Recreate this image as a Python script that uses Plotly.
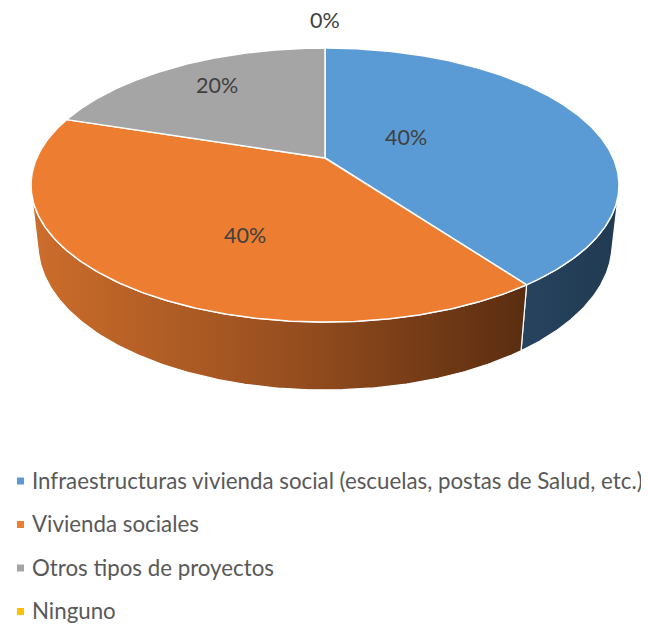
import numpy as np
import plotly.graph_objects as go

# ---------------- data ----------------
categories = [
    "Infraestructuras vivienda social (escuelas, postas de Salud, etc.)",
    "Vivienda sociales",
    "Otros tipos de proyectos",
    "Ninguno",
]
values = [40, 40, 20, 0]

# ---------------- style ----------------
top_colors = ["#5B9BD5", "#ED7D31", "#A5A5A5", "#FFC000"]
wall_scales = [
    [[0, "#27435E"], [1, "#213A52"]],
    [[0, "#CC6D2B"], [0.5, "#9A5020"], [1, "#5A2D10"]],
    [[0, "#7A7A7A"], [1, "#5A5A5A"]],
    [[0, "#BF9000"], [1, "#8F6C00"]],
]
label_r = [0.30, 0.44, 0.71, 1.32]     # radial position of data labels (fraction of radius)
label_dy = [-9, 27, -5, 0]             # small vertical nudges in px
W, H = 649, 627
PAGE_MARGIN = 8                        # default body margin of the html page
FONT = "Lato, Calibri, sans-serif"

# 3D camera for the tilted pie
phi = np.radians(27.2)
D, f, cx, cy, h = 4.51, 1300.0, 325.0, 158.0, 0.234


def proj(th, r=1.0, z=0.0):
    u = r * np.sin(th)
    v = r * np.cos(th)
    s_up = v * np.sin(phi) + z * np.cos(phi)
    t = -v * np.cos(phi) + z * np.sin(phi)
    w = D - t
    return cx + f * u / w, cy - f * s_up / w


total = sum(values)
fracs = [v / total for v in values]
starts = np.concatenate([[0], np.cumsum(fracs)[:-1]]) * 2 * np.pi
ends = np.cumsum(fracs) * 2 * np.pi
th_s = np.arccos(-1.0 / (D * np.cos(phi)))  # silhouette angle of the side wall

fig = go.Figure()

# side walls
for i in range(len(values)):
    lo, hi = max(starts[i], th_s), min(ends[i], 2 * np.pi - th_s)
    if hi <= lo:
        continue
    th = np.linspace(lo, hi, 200)
    xt, yt = proj(th)
    xb, yb = proj(th[::-1], z=-h)
    xs = np.concatenate([xt, xb, xt[:1]])
    ys = np.concatenate([yt, yb, yt[:1]])
    fig.add_trace(go.Scatter(
        x=xs, y=ys, mode="lines", fill="toself",
        fillgradient=dict(type="horizontal", colorscale=wall_scales[i]),
        line=dict(color="white", width=1.2),
        hoverinfo="skip", showlegend=False))

# top faces
for i in range(len(values)):
    if ends[i] - starts[i] <= 0:
        continue
    th = np.linspace(starts[i], ends[i], 300)
    xa, ya = proj(th)
    xs = np.concatenate([[cx], xa, [cx]])
    ys = np.concatenate([[cy], ya, [cy]])
    fig.add_trace(go.Scatter(
        x=xs, y=ys, mode="lines", fill="toself", fillcolor=top_colors[i],
        line=dict(color="white", width=1.5),
        hoverinfo="skip", showlegend=False))

# data labels
annotations = []
for i in range(len(values)):
    mid = (starts[i] + ends[i]) / 2
    lx, ly = proj(mid, r=label_r[i])
    annotations.append(dict(
        x=float(lx), y=float(ly + label_dy[i]), xref="x", yref="y",
        text=f"{round(fracs[i] * 100)}%", showarrow=False,
        font=dict(family=FONT, size=21.5, color="#404040"),
        xanchor="center", yanchor="middle"))

# legend (custom, to match square swatches and spacing)
shapes = []
leg_x, leg_y, leg_gap = 30, 480, 43.5
for i, cat in enumerate(categories):
    yc = leg_y + i * leg_gap
    shapes.append(dict(type="rect", xref="x", yref="y",
                       x0=17, x1=24, y0=yc - 2.5, y1=yc + 4.5,
                       fillcolor=top_colors[i], line=dict(width=0)))
    annotations.append(dict(
        x=leg_x, y=yc, xref="x", yref="y", text=cat, showarrow=False,
        font=dict(family=FONT, size=22.3, color="#595959"),
        xanchor="left", yanchor="middle"))

fig.update_layout(
    width=W - PAGE_MARGIN, height=H - PAGE_MARGIN,
    margin=dict(l=0, r=0, t=0, b=0),
    paper_bgcolor="white", plot_bgcolor="white",
    xaxis=dict(range=[PAGE_MARGIN, W], visible=False, fixedrange=True),
    yaxis=dict(range=[H, PAGE_MARGIN], visible=False, fixedrange=True),
    annotations=annotations, shapes=shapes,
    showlegend=False,
)

fig.write_html("out.html")
